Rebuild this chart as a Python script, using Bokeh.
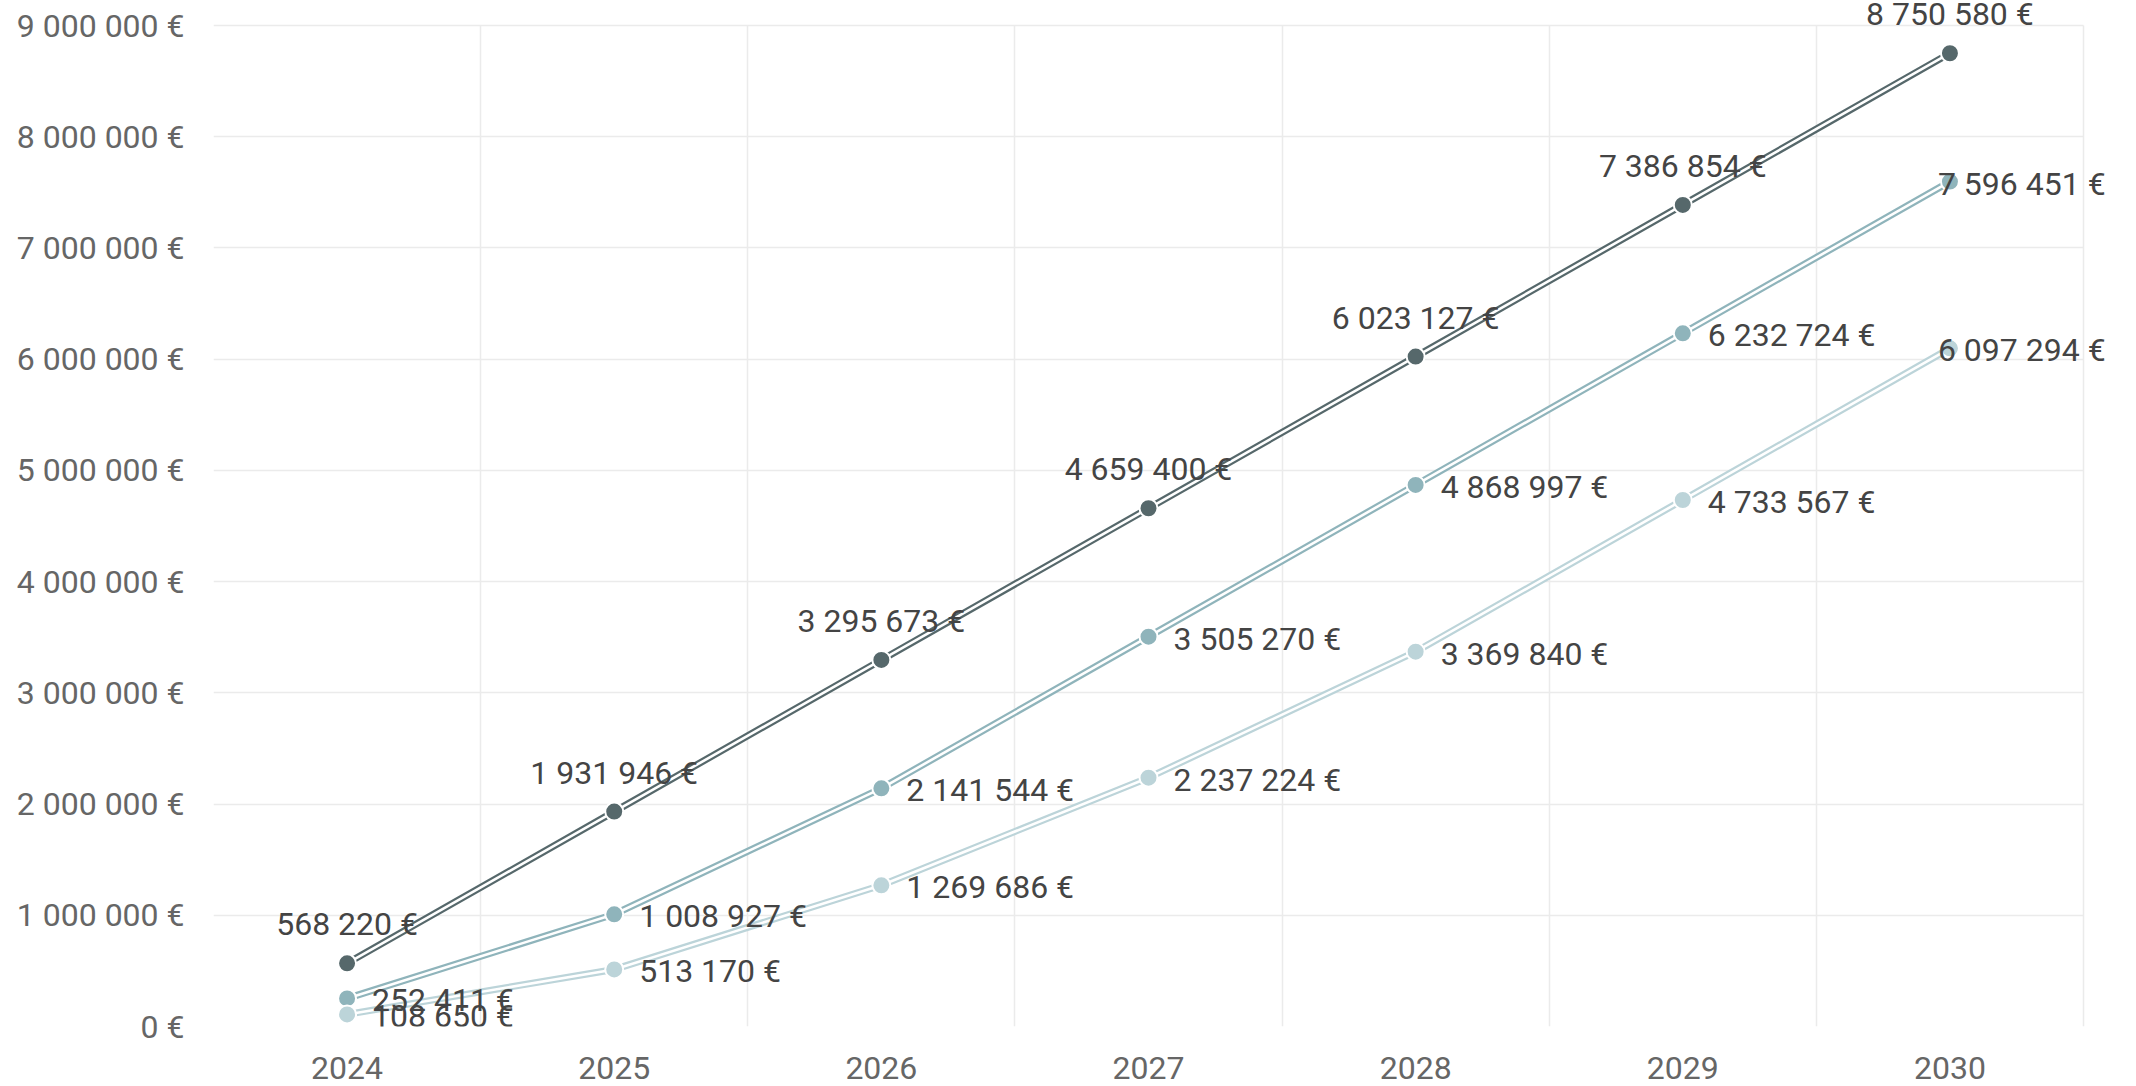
from bokeh.plotting import figure
from bokeh.models import (ColumnDataSource, Label, FixedTicker, CustomJSTickFormatter,
                          Range1d)
from bokeh.embed import file_html
from bokeh.resources import INLINE

years = [2024, 2025, 2026, 2027, 2028, 2029, 2030]
series_1 = [568220, 1931946, 3295673, 4659400, 6023127, 7386854, 8750580]
series_2 = [252411, 1008927, 2141544, 3505270, 4868997, 6232724, 7596451]
series_3 = [108650, 513170, 1269686, 2237224, 3369840, 4733567, 6097294]
colors = ["#56686b", "#8fb4bb", "#bcd4d9"]
y_ticks = [0, 1000000, 2000000, 3000000, 4000000, 5000000, 6000000, 7000000, 8000000, 9000000]


def fmt(v):
    return "{:,}".format(int(v)).replace(",", " ") + " €"


FONT = "Roboto"

# layout (pixels): visible chart box spans x 213..2083, y 25..1026 of a 2136x1086 page.
# The frame is extended to the top and right edges so that value labels are not clipped.
W, H = 2136, 1086
BOX_L, BOX_R, BOX_T, BOX_B = 213, 2083, 25, 1026
x0, x1 = years[0] - 0.5, years[-1] + 0.5
y0, y1 = 0, y_ticks[-1]
x_end = x1 + (W - BOX_R) * (x1 - x0) / (BOX_R - BOX_L)
y_end = y1 + BOX_T * (y1 - y0) / (BOX_B - BOX_T)

p = figure(width=W, height=H, output_backend="svg", toolbar_location=None,
           x_range=Range1d(x0, x_end), y_range=Range1d(y0, y_end),
           min_border_left=BOX_L, min_border_right=0, min_border_top=0,
           min_border_bottom=H - BOX_B)
p.background_fill_color = "white"
p.border_fill_color = "white"
p.outline_line_color = None

# axes
p.xaxis.ticker = FixedTicker(ticks=years)
p.yaxis.ticker = FixedTicker(ticks=y_ticks)
p.yaxis.formatter = CustomJSTickFormatter(code="""
return tick.toFixed(0).replace(/\\B(?=(\\d{3})+(?!\\d))/g, " ") + " €";
""")
for ax in (p.xaxis[0], p.yaxis[0]):
    ax.axis_line_color = None
    ax.major_tick_line_color = None
    ax.minor_tick_line_color = None
    ax.major_label_text_font = FONT
    ax.major_label_text_font_size = "32px"
    ax.major_label_text_color = "#666666"
p.xaxis.major_label_standoff = 24
p.yaxis.major_label_standoff = 23

# grids (they also form the chart box)
xg = p.xgrid[0]
yg = p.ygrid[0]
xg.ticker = FixedTicker(ticks=[y - 0.5 for y in years] + [x1])
yg.ticker = FixedTicker(ticks=y_ticks)
for g in (xg, yg):
    g.grid_line_color = "#ebebeb"
    g.grid_line_width = 1.5
xg.cross_bounds = (y0, y1)
yg.cross_bounds = (x0, x1)

all_series = [series_1, series_2, series_3]
for vals, col in zip(all_series, colors):
    src = ColumnDataSource(dict(x=years, y=vals))
    p.line("x", "y", source=src, line_color=col, line_width=7)
    p.line("x", "y", source=src, line_color="white", line_width=2.6)
    p.scatter("x", "y", source=src, marker="circle", size=18, fill_color=col,
              line_color="white", line_width=2)

for i, vals in enumerate(all_series):
    for j, (xv, yv) in enumerate(zip(years, vals)):
        if i == 0:
            lab = Label(x=xv, y=yv, text=fmt(yv), text_align="center",
                        text_baseline="alphabetic", y_offset=39,
                        text_font=FONT, text_font_size="32px", text_color="#444444")
        else:
            last = j == len(years) - 1
            lab = Label(x=xv, y=yv, text=fmt(yv), text_align="left",
                        text_baseline="middle", x_offset=-12 if last else 25, y_offset=-2,
                        text_font=FONT, text_font_size="32px", text_color="#444444")
        p.add_layout(lab)

open("out.html", "w").write(file_html(p, INLINE))
